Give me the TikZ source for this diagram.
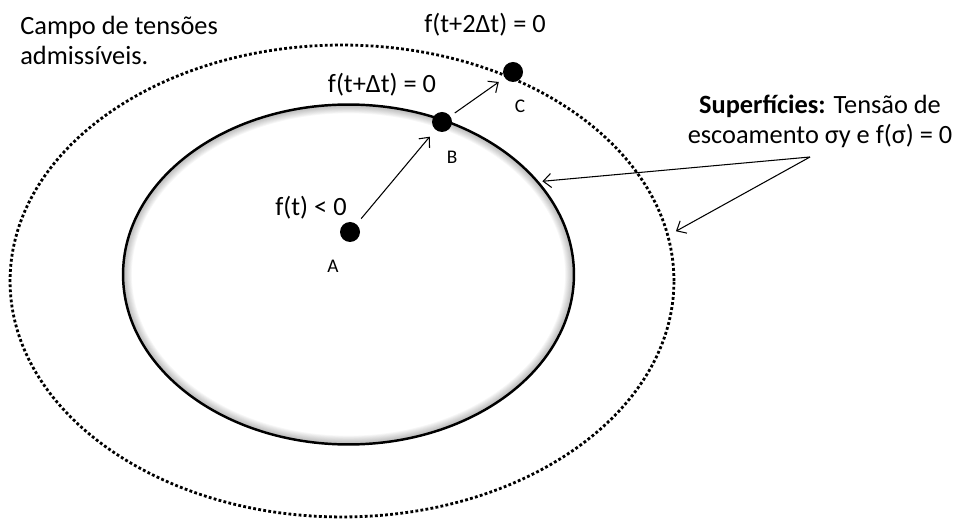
\documentclass[tikz,border=0pt]{standalone}
\usepackage{fontspec}
\setmainfont{Carlito}
\usetikzlibrary{shapes.geometric,positioning,arrows.meta}
\tikzset{
  stressdot/.style={circle, fill=black, inner sep=0pt, minimum size=0.4cm},
  pointlabel/.style={font=\fontsize{11}{13}\selectfont},
  biglabel/.style={font=\fontsize{15}{17}\selectfont, inner sep=0pt},
  thinarrow/.style={-{Straight Barb[length=4.5pt, width=8pt]}, line width=0.6pt},
}
\begin{document}
\begin{tikzpicture}[x=0.02cm, y=-0.02cm]
    \useasboundingbox (0,0) rectangle (972,519);
    % Soft shadow inside the yield surface
    \begin{scope}
    \clip (348.5,274.5) ellipse (4.51cm and 3.4cm);
    \foreach \w in {2,3,...,10}
    {
        \draw[black, opacity=0.03, line width=\w pt] (348.5,274.5) ellipse (4.51cm and 3.4cm);
    }
    \end{scope}
    % Surfaces
    \node at (348.5,274.5) [ellipse, draw, line width=1.4pt, inner sep=0pt,
        minimum width=9.02cm, minimum height=6.8cm] (yield) {};
    \node at (342,281) [ellipse, draw, line width=1.6pt, dash pattern=on 1.6pt off 1.3pt,
        inner sep=0pt, minimum width=13.28cm, minimum height=9.44cm] (admissible) {};
    % Stress points
    \node at (350,232) [stressdot] (A) {};
    \node at (442,122) [stressdot] (B) {};
    \node at (513,72) [stressdot] (C) {};
    \node at (333,266) [pointlabel] (labelA) {A};
    \node at (452,157) [pointlabel] (labelB) {B};
    \node at (520,106) [pointlabel] (labelC) {C};
    \draw[thinarrow, shorten <=4pt, shorten >=5pt] (A) -- (B);
    \draw[thinarrow, shorten <=3pt, shorten >=4pt] (B) -- (C);
    % Function values
    \node at (311,208) [biglabel] (ft) {f(t) < 0};
    \node at (382,85) [biglabel] (ftdt) {f(t+Δt) = 0};
    \node at (485,25) [biglabel] (ft2dt) {f(t+2Δt) = 0};
    % Texts
    \node at (20,35) [biglabel, anchor=base west] (campo) {Campo de tensões};
    \node at ([yshift=-17pt]campo.base west) [biglabel, anchor=base west] (admis) {admissíveis.};
    \node at (820,121) [biglabel, align=center] (surf)
        {\textbf{Superfícies:} Tensão de\\escoamento σy e f(σ) = 0};
    \coordinate (surftip) at (810,157);
    \draw[thinarrow, shorten >=2pt] (surftip) -- (yield.26.7);
    \draw[thinarrow, shorten >=4.5pt] (surftip) -- (admissible.8.3);
\end{tikzpicture}
\end{document}
